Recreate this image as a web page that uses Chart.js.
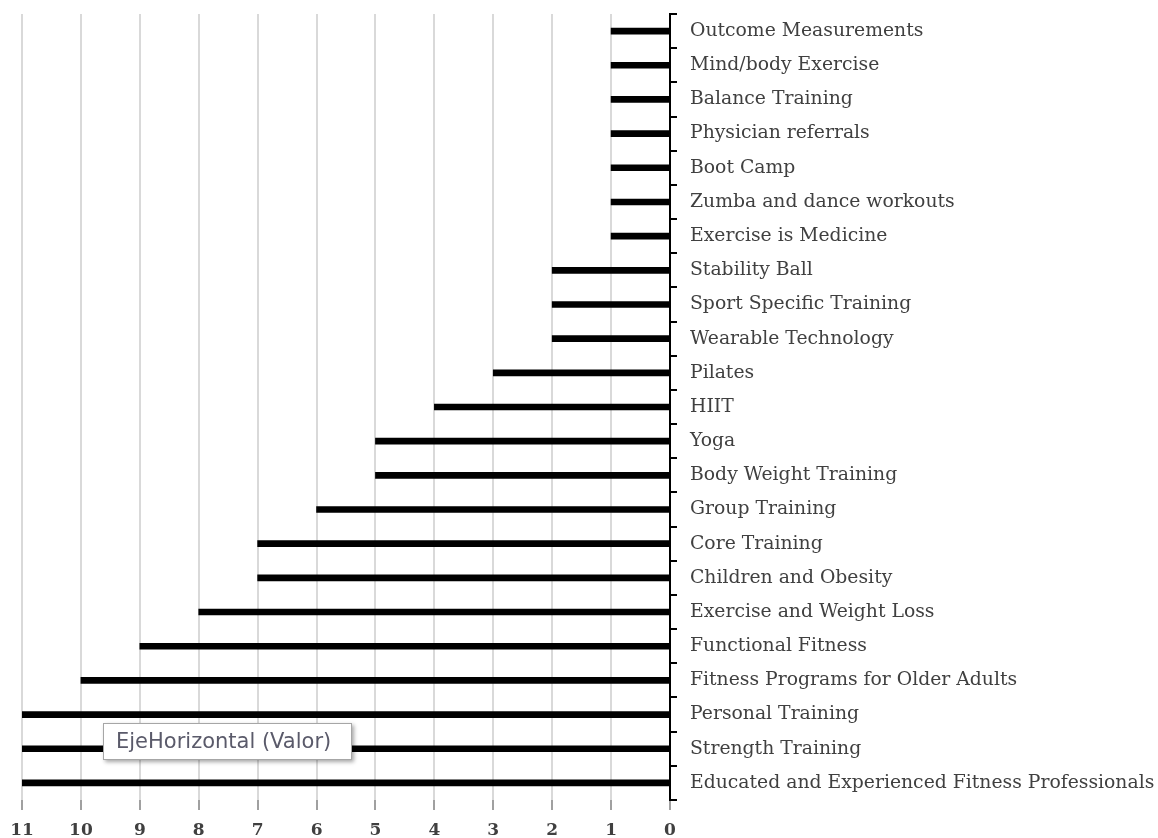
<!DOCTYPE html>
<html><head><meta charset="utf-8">
<script src="https://cdn.jsdelivr.net/npm/chart.js@4.4.1/dist/chart.umd.min.js"></script>
<style>html,body{margin:0;padding:0;background:#fff;}#wrap{width:1158px;height:838px;}</style>
</head><body><div id="wrap"><canvas id="c" width="1158" height="838"></canvas></div>
<script>
const categories = ["Outcome Measurements","Mind/body Exercise","Balance Training","Physician referrals","Boot Camp","Zumba and dance workouts","Exercise is Medicine","Stability Ball","Sport Specific Training","Wearable Technology","Pilates","HIIT","Yoga","Body Weight Training","Group Training","Core Training","Children and Obesity","Exercise and Weight Loss","Functional Fitness","Fitness Programs for Older Adults","Personal Training","Strength Training","Educated and Experienced Fitness Professionals"];
const values = [1,1,1,1,1,1,1,2,2,2,3,4,5,5,6,7,7,8,9,10,11,11,11];
const tickValues = [0,1,2,3,4,5,6,7,8,9,10,11];
const calloutText = "EjeHorizontal (Valor)";

const callout = {
  id:'callout',
  afterDraw(chart){
    const ctx = chart.ctx;
    const x = 103, y = 723, w = 249, h = 37;
    ctx.save();
    ctx.shadowColor = 'rgba(0,0,0,0.35)';
    ctx.shadowBlur = 4; ctx.shadowOffsetX = 2; ctx.shadowOffsetY = 2;
    ctx.fillStyle = '#fff';
    ctx.fillRect(x,y,w,h);
    ctx.shadowColor = 'transparent';
    ctx.strokeStyle = '#a6a6a6'; ctx.lineWidth = 1;
    ctx.strokeRect(x+0.5,y+0.5,w-1,h-1);
    ctx.fillStyle = '#5a5a6a';
    ctx.font = '21px "DejaVu Sans", sans-serif';
    ctx.textBaseline = 'middle';
    ctx.fillText(calloutText, x+13, y+h/2+1);
    ctx.restore();
  }
};

new Chart(document.getElementById('c'), {
  type:'bar',
  data:{labels:categories, datasets:[{data:values, backgroundColor:'#000', barThickness:6, borderWidth:0}]},
  options:{
    indexAxis:'y', responsive:false, animation:false,
    layout:{padding:{left:22, top:14, right:0, bottom:0}},
    plugins:{legend:{display:false}, tooltip:{enabled:false}},
    scales:{
      x:{
        reverse:true, min:0, max:11,
        afterBuildTicks(s){ s.ticks = tickValues.map(v=>({value:v})); },
        afterFit(s){ s.height = 38; s.paddingLeft = 0; s.paddingRight = 0; },
        grid:{color:'#d9d9d9', lineWidth:2, tickLength:10, tickColor:'#a0a0a0'},
        border:{display:false},
        ticks:{color:'#404040', font:{family:'"DejaVu Serif", serif', size:17, weight:'bold'}, padding:10}
      },
      y:{
        position:'right',
        afterFit(s){ s.width = 488; s.paddingTop = 0; s.paddingBottom = 0; },
        grid:{drawOnChartArea:false, offset:true, color:'#000', lineWidth:2, tickLength:7},
        border:{display:true, color:'#000', width:2},
        ticks:{color:'#404040', padding:13, font:{family:'"DejaVu Serif", serif', size:18.8}}
      }
    }
  },
  plugins:[callout]
});
</script></body></html>
